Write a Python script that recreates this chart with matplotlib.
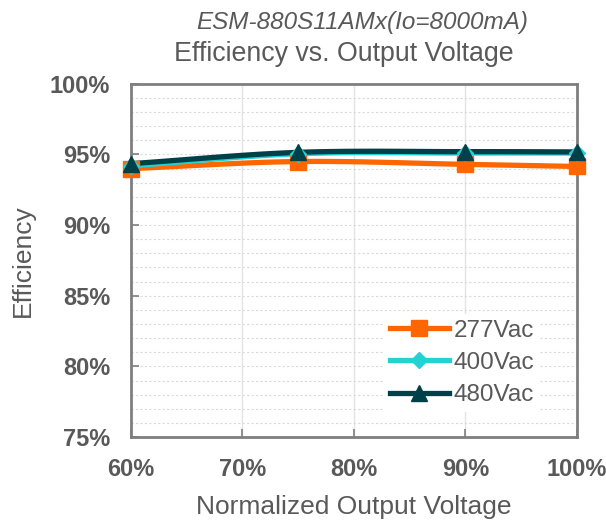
import numpy as np
import matplotlib
matplotlib.use("Agg")
import matplotlib.pyplot as plt
from matplotlib.ticker import MultipleLocator, FuncFormatter

plt.rcParams['font.family'] = ['Liberation Sans', 'DejaVu Sans']

x_vals = [60, 75, 90, 100]
eff_277 = [94.0, 94.5, 94.3, 94.15]
eff_400 = [94.2, 95.05, 95.1, 95.1]
eff_480 = [94.35, 95.15, 95.2, 95.18]
series_names = ['277Vac', '400Vac', '480Vac']
colors = ['#FF6600', '#22D3D3', '#004049']
markers = ['s', 'D', '^']
msizes = [11, 8, 11]

title1 = 'ESM-880S11AMx(Io=8000mA)'
title2 = 'Efficiency vs. Output Voltage'
xlabel = 'Normalized Output Voltage'
ylabel = 'Efficiency'


def smooth(x, y, n=40):
    # Catmull-Rom style smoothing for display (like Excel smoothed lines)
    x = np.asarray(x, float); y = np.asarray(y, float)
    px = np.concatenate([[2*x[0]-x[1]], x, [2*x[-1]-x[-2]]])
    py = np.concatenate([[2*y[0]-y[1]], y, [2*y[-1]-y[-2]]])
    xs, ys = [], []
    t = np.linspace(0, 1, n)
    for i in range(1, len(px)-2):
        p0, p1, p2, p3 = [np.array([px[j], py[j]]) for j in range(i-1, i+3)]
        m1 = (p2 - p0) / 2
        m2 = (p3 - p1) / 2
        h00 = 2*t**3 - 3*t**2 + 1
        h10 = t**3 - 2*t**2 + t
        h01 = -2*t**3 + 3*t**2
        h11 = t**3 - t**2
        pts = np.outer(h00, p1) + np.outer(h10, m1) + np.outer(h01, p2) + np.outer(h11, m2)
        xs.extend(pts[:, 0]); ys.extend(pts[:, 1])
    return np.array(xs), np.array(ys)


fig = plt.figure(figsize=(6.06, 5.24), dpi=100)
ax = fig.add_axes([0.216, 0.166, 0.736, 0.674])

for name, ys, c, m, ms in zip(series_names, [eff_277, eff_400, eff_480], colors, markers, msizes):
    sx, sy = smooth(x_vals, ys)
    ax.plot(sx, sy, color=c, lw=3.8, solid_capstyle='round', zorder=3)
    ax.plot(x_vals, ys, linestyle='none', marker=m, color=c, markersize=ms, zorder=4,
            clip_on=False)
    ax.plot([], [], color=c, lw=3.8, marker=m, markersize=ms, label=name)

ax.set_xlim(60, 100)
ax.set_ylim(75, 100)
ax.xaxis.set_major_locator(MultipleLocator(10))
ax.yaxis.set_major_locator(MultipleLocator(5))
ax.yaxis.set_minor_locator(MultipleLocator(1))
ax.xaxis.set_major_formatter(FuncFormatter(lambda v, p: f'{v:.0f}%'))
ax.yaxis.set_major_formatter(FuncFormatter(lambda v, p: f'{v:.0f}%'))

ax.grid(True, which='major', axis='x', color='#E3E3E3', lw=1)
ax.grid(True, which='minor', axis='y', color='#DADADA', lw=0.8, linestyle=(0, (2, 2)))
ax.grid(True, which='major', axis='y', color='#DADADA', lw=0.8, linestyle=(0, (2, 2)))
ax.set_axisbelow(True)

for s in ax.spines.values():
    s.set_color('#7F7F7F')
    s.set_linewidth(2)

ax.tick_params(axis='both', which='major', direction='in', length=6, width=1.2,
               color='#7F7F7F', labelcolor='#595959', labelsize=17)
ax.tick_params(axis='y', which='major', pad=15)
ax.tick_params(axis='x', which='major', pad=15)
ax.tick_params(axis='y', which='minor', length=0)
for lab in ax.get_xticklabels() + ax.get_yticklabels():
    lab.set_fontweight('bold')

ax.set_xlabel(xlabel, fontsize=19, color='#595959', labelpad=10)
ax.set_ylabel(ylabel, fontsize=19, color='#595959', labelpad=11)

fig.text(0.597, 0.945, title1, ha='center', va='baseline', fontsize=17.5, style='italic', color='#595959')
fig.text(0.568, 0.884, title2, ha='center', va='baseline', fontsize=19.3, color='#595959')

leg = ax.legend(loc='lower left', bbox_to_anchor=(0.568, 0.07), frameon=True, fontsize=17.5,
                handlelength=2.4, labelspacing=0.42, handletextpad=0.2, borderpad=0.25,
                borderaxespad=0)
leg.get_frame().set_edgecolor('none')
leg.get_frame().set_facecolor('white')
leg.get_frame().set_alpha(1)
for t in leg.get_texts():
    t.set_color('#595959')

fig.savefig('out.png', dpi=100)
